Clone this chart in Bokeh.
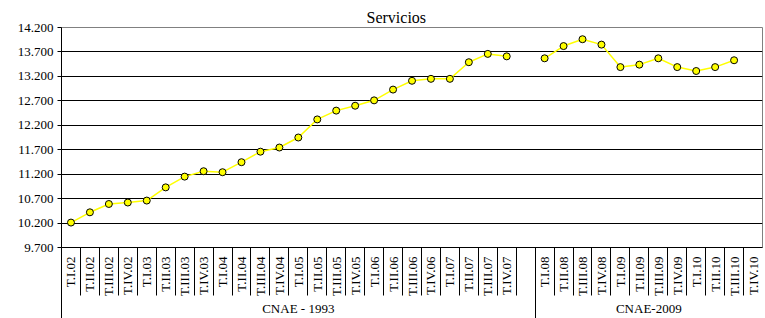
import numpy as np
from bokeh.plotting import figure
from bokeh.models import ColumnDataSource, Range1d, FixedTicker, LinearAxis
from bokeh.embed import file_html
from bokeh.resources import INLINE

# ---- data ----
categories = [
    "T.I.02", "T.II.02", "T.III.02", "T.IV.02",
    "T.I.03", "T.II.03", "T.III.03", "T.IV.03",
    "T.I.04", "T.II.04", "T.III.04", "T.IV.04",
    "T.I.05", "T.II.05", "T.III.05", "T.IV.05",
    "T.I.06", "T.II.06", "T.III.06", "T.IV.06",
    "T.I.07", "T.II.07", "T.III.07", "T.IV.07",
    "",
    "T.I.08", "T.II.08", "T.III.08", "T.IV.08",
    "T.I.09", "T.II.09", "T.III.09", "T.IV.09",
    "T.I.10", "T.II.10", "T.III.10", "T.IV.10",
]
values = [
    10.21, 10.42, 10.59, 10.62,
    10.66, 10.93, 11.15, 11.26,
    11.24, 11.445, 11.66, 11.745,
    11.95, 12.32, 12.50, 12.60,
    12.71, 12.93, 13.11, 13.15,
    13.15, 13.49, 13.66, 13.61,
    None,
    13.57, 13.82, 13.96, 13.85,
    13.39, 13.44, 13.57, 13.39,
    13.31, 13.39, 13.53, None,
]
groups = ["CNAE - 1993", "CNAE-2009"]
group_sizes = [25, 12]
y_ticks = [9.7, 10.2, 10.7, 11.2, 11.7, 12.2, 12.7, 13.2, 13.7, 14.2]
y_tick_labels = ["9.700", "10.200", "10.700", "11.200", "11.700",
                 "12.200", "12.700", "13.200", "13.700", "14.200"]
title_text = "Servicios"

# ---- derived ----
n = len(categories)
xs = np.arange(n) + 0.5
ys = np.array([np.nan if v is None else v for v in values], dtype=float)
src = ColumnDataSource(dict(x=xs, y=ys))

FONT = "Liberation Serif"

p = figure(width=765, height=318, output_backend="svg", toolbar_location=None,
           x_range=Range1d(0, n), y_range=Range1d(y_ticks[0], y_ticks[-1]),
           min_border_left=61, min_border_right=3, min_border_top=27,
           min_border_bottom=71, x_axis_location=None, y_axis_location=None)

p.title.text = title_text
p.title.text_font = FONT
p.title.text_font_size = "16px"
p.title.text_font_style = "normal"
p.title.text_color = "black"
p.title.align = "left"
p.title.offset = 305
p.title.standoff = 4

p.outline_line_color = "#808080"
p.outline_line_width = 1
p.background_fill_color = "white"
p.border_fill_color = "white"

# y axis
yaxis = LinearAxis(ticker=FixedTicker(ticks=y_ticks, minor_ticks=[]))
yaxis.major_label_overrides = {t: s for t, s in zip(y_ticks, y_tick_labels)}
yaxis.major_label_text_font = FONT
yaxis.major_label_text_font_size = "13px"
yaxis.major_label_text_color = "black"
yaxis.major_tick_out = 4
yaxis.major_tick_in = 0
yaxis.major_label_standoff = 4
yaxis.axis_line_color = "black"
yaxis.major_tick_line_color = "black"
p.add_layout(yaxis, "left")

# group boundary lines (long separators), zero-extent axis right below the frame
edges = np.concatenate([[0], np.cumsum(group_sizes)])
centers = [(edges[i] + edges[i + 1]) / 2 for i in range(len(groups))]
baxis = LinearAxis(ticker=FixedTicker(ticks=[], minor_ticks=[float(e) for e in edges[:-1]]))
baxis.major_label_standoff = 0
baxis.major_tick_out = 0
baxis.major_tick_in = 0
baxis.minor_tick_out = 0
baxis.minor_tick_in = -80
baxis.minor_tick_line_color = "black"
baxis.axis_line_color = None
p.add_layout(baxis, "below")

# x axis (quarter labels)
label_ticks = [float(x) for x, c in zip(xs, categories) if c]
boundaries = [float(i) for i in range(1, n)]
xaxis = LinearAxis(ticker=FixedTicker(ticks=label_ticks, minor_ticks=boundaries))
xaxis.major_label_overrides = {float(x): c for x, c in zip(xs, categories) if c}
xaxis.major_label_orientation = np.pi / 2
xaxis.major_label_text_font = FONT
xaxis.major_label_text_font_size = "13px"
xaxis.major_label_text_color = "black"
xaxis.major_label_standoff = 9
xaxis.major_tick_out = 0
xaxis.major_tick_in = 0
xaxis.minor_tick_out = 0
xaxis.minor_tick_in = -48
xaxis.minor_tick_line_color = "black"
xaxis.axis_line_color = "black"
p.add_layout(xaxis, "below")

# x axis (group labels)
gaxis = LinearAxis(ticker=FixedTicker(ticks=[float(c) for c in centers], minor_ticks=[]))
gaxis.major_label_overrides = {float(c): g for c, g in zip(centers, groups)}
gaxis.major_label_text_font = FONT
gaxis.major_label_text_font_size = "13px"
gaxis.major_label_text_color = "black"
gaxis.major_label_standoff = 2
gaxis.major_tick_out = 0
gaxis.major_tick_in = 0
gaxis.minor_tick_out = 0
gaxis.minor_tick_in = 0
gaxis.axis_line_color = None
p.add_layout(gaxis, "below")

# grid
p.xgrid.visible = False
p.ygrid.ticker = FixedTicker(ticks=y_ticks)
p.ygrid.grid_line_color = "black"
p.ygrid.grid_line_width = 1

# series
p.line("x", "y", source=src, line_color="#FFFF00", line_width=1.5)
p.scatter("x", "y", source=src, size=7, fill_color="#FFFF00",
          line_color="black", line_width=1)

open("out.html", "w").write(file_html(p, INLINE))
